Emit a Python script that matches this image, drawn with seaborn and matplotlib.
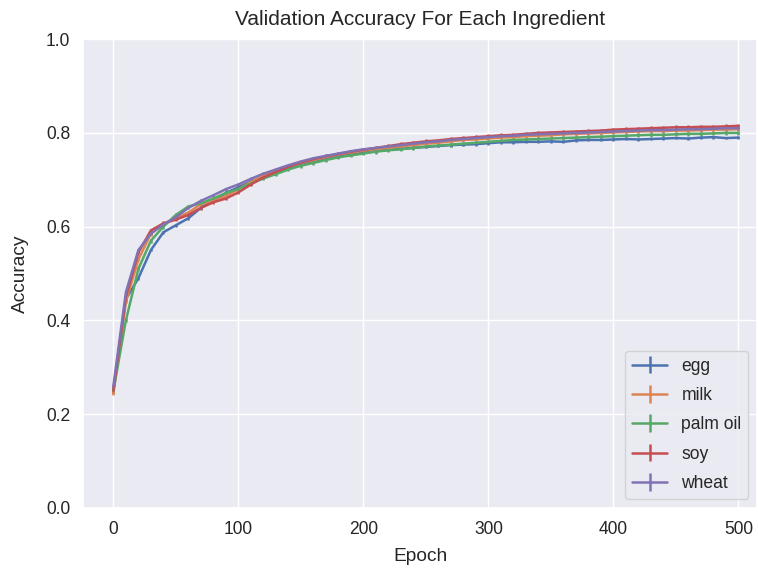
import numpy as np
import seaborn as sns
import matplotlib
matplotlib.use("Agg")
import matplotlib.pyplot as plt

# Epochs sampled every 10 steps
epochs = list(range(0, 501, 10))

egg = [0.250, 0.445, 0.490, 0.550, 0.588, 0.603, 0.618, 0.640, 0.655, 0.672,
       0.684, 0.696, 0.707, 0.716, 0.725, 0.733, 0.740, 0.745, 0.750, 0.754,
       0.758, 0.761, 0.764, 0.766, 0.768, 0.770, 0.772, 0.774, 0.775, 0.776,
       0.778, 0.780, 0.780, 0.781, 0.781, 0.782, 0.781, 0.784, 0.785, 0.785,
       0.786, 0.787, 0.786, 0.787, 0.788, 0.789, 0.788, 0.790, 0.791, 0.789,
       0.790]
milk = [0.245, 0.440, 0.530, 0.585, 0.605, 0.618, 0.630, 0.648, 0.655, 0.665,
        0.680, 0.695, 0.708, 0.718, 0.728, 0.736, 0.742, 0.748, 0.754, 0.758,
        0.762, 0.765, 0.768, 0.771, 0.774, 0.777, 0.779, 0.782, 0.785, 0.786,
        0.788, 0.790, 0.791, 0.793, 0.794, 0.795, 0.797, 0.798, 0.799, 0.800,
        0.801, 0.802, 0.803, 0.804, 0.804, 0.805, 0.805, 0.806, 0.807, 0.807,
        0.808]
palm_oil = [0.250, 0.400, 0.510, 0.570, 0.600, 0.625, 0.643, 0.650, 0.660, 0.672,
            0.680, 0.692, 0.703, 0.712, 0.722, 0.730, 0.736, 0.742, 0.748, 0.752,
            0.756, 0.760, 0.763, 0.765, 0.768, 0.771, 0.773, 0.775, 0.777, 0.779,
            0.781, 0.783, 0.785, 0.786, 0.787, 0.788, 0.789, 0.790, 0.791, 0.792,
            0.793, 0.794, 0.795, 0.796, 0.796, 0.797, 0.798, 0.798, 0.799, 0.800,
            0.800]
soy = [0.250, 0.450, 0.545, 0.592, 0.607, 0.615, 0.625, 0.640, 0.652, 0.660,
       0.673, 0.690, 0.705, 0.717, 0.728, 0.737, 0.744, 0.750, 0.755, 0.760,
       0.764, 0.768, 0.772, 0.776, 0.779, 0.782, 0.784, 0.787, 0.789, 0.791,
       0.793, 0.795, 0.796, 0.798, 0.800, 0.801, 0.802, 0.803, 0.804, 0.805,
       0.807, 0.808, 0.809, 0.810, 0.811, 0.812, 0.812, 0.813, 0.813, 0.814,
       0.815]
wheat = [0.260, 0.460, 0.550, 0.585, 0.605, 0.620, 0.640, 0.655, 0.667, 0.680,
         0.690, 0.702, 0.713, 0.722, 0.731, 0.739, 0.746, 0.751, 0.756, 0.761,
         0.765, 0.768, 0.771, 0.774, 0.777, 0.780, 0.782, 0.785, 0.787, 0.789,
         0.791, 0.793, 0.794, 0.796, 0.797, 0.798, 0.799, 0.800, 0.801, 0.802,
         0.803, 0.804, 0.805, 0.806, 0.806, 0.807, 0.808, 0.808, 0.809, 0.810,
         0.810]

ingredients = ["egg", "milk", "palm oil", "soy", "wheat"]
series = [egg, milk, palm_oil, soy, wheat]
# small spread between runs, shown as error bars
errors = [0.003, 0.004, 0.004, 0.004, 0.003]

sns.set_theme(style="darkgrid", font_scale=1.15)
plt.rcParams['font.family'] = ['Liberation Sans', 'DejaVu Sans']
colors = sns.color_palette()

fig, ax = plt.subplots(figsize=(7.58, 5.68), dpi=100)
fig.subplots_adjust(left=0.11, right=0.999, top=0.931, bottom=0.106)

for name, vals, err, c in zip(ingredients, series, errors, colors):
    ax.errorbar(epochs, vals, yerr=err, label=name, color=c, linewidth=1.8)

ax.set_xlim(-24, 515)
ax.set_ylim(0, 1.0)
ax.set_title("Validation Accuracy For Each Ingredient", fontsize=15, pad=10)
ax.set_xlabel("Epoch", labelpad=7)
ax.set_ylabel("Accuracy", labelpad=12)
ax.legend(loc="lower right", labelspacing=0.7)

fig.savefig("out.png", dpi=100)
